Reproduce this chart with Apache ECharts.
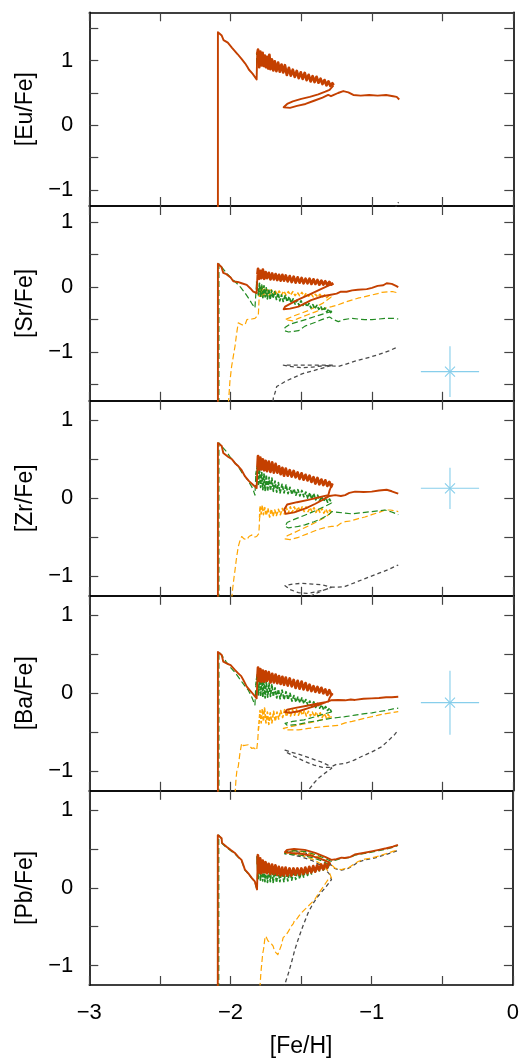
<!DOCTYPE html>
<html><head><meta charset="utf-8">
<script src="https://cdn.jsdelivr.net/npm/echarts@6/dist/echarts.min.js"></script>
<style>html,body{margin:0;padding:0;background:#fff}#c{width:522px;height:1059px}</style>
</head><body><div id="c"></div><script>
// ---------- axis text ----------
const xName = '[Fe/H]';
const panelNames = ['[Eu/Fe]', '[Sr/Fe]', '[Zr/Fe]', '[Ba/Fe]', '[Pb/Fe]'];
const panelRanges = [[-1.25, 1.75], [-1.75, 1.25], [-1.25, 1.25], [-1.25, 1.25], [-1.25, 1.25]];
const panelTicks = [[-1, -0.5, 0, 0.5, 1, 1.5], [-1.5, -1, -0.5, 0, 0.5, 1], [-1, -0.5, 0, 0.5, 1], [-1, -0.5, 0, 0.5, 1], [-1, -0.5, 0, 0.5, 1]];
const yLabelValues = [-1, 0, 1];
const xRange = [-3, 0];
const xLabelValues = [-3, -2, -1, 0];

// ---------- [Eu/Fe] ----------
const euRedPre = [[-2.090,-1.30],[-2.090,1.44],[-2.063,1.39],[-2.050,1.32],[-2.020,1.28],[-1.990,1.20],[-1.950,1.10],[-1.920,1.02],[-1.898,0.96],[-1.880,0.90],[-1.870,0.86],[-1.845,0.80],[-1.816,0.71],[-1.812,1.10]];
const euRedBand = [[-1.806,1.17],[-1.798,0.90],[-1.790,1.14],[-1.782,0.93],[-1.774,1.12],[-1.766,0.92],[-1.758,1.08],[-1.750,0.90],[-1.742,1.06],[-1.734,0.88],[-1.726,1.09],[-1.718,0.87],[-1.708,1.02],[-1.698,0.85],[-1.688,0.99],[-1.676,0.84],[-1.664,0.97],[-1.652,0.83],[-1.640,0.94],[-1.628,0.82],[-1.616,0.93],[-1.602,0.78],[-1.588,0.89],[-1.574,0.77],[-1.560,0.86],[-1.546,0.75],[-1.532,0.84],[-1.518,0.73],[-1.504,0.82],[-1.490,0.72],[-1.476,0.81],[-1.462,0.70],[-1.448,0.78],[-1.434,0.68],[-1.420,0.76],[-1.406,0.67],[-1.392,0.75],[-1.378,0.66],[-1.364,0.72],[-1.350,0.64],[-1.336,0.70],[-1.322,0.62],[-1.308,0.68],[-1.294,0.61],[-1.280,0.65],[-1.272,0.62]];
const euRedPost = [[-1.300,0.55],[-1.330,0.52],[-1.380,0.48],[-1.440,0.44],[-1.500,0.41],[-1.560,0.37],[-1.600,0.33],[-1.625,0.28],[-1.615,0.26],[-1.580,0.27],[-1.530,0.30],[-1.470,0.33],[-1.410,0.38],[-1.350,0.43],[-1.310,0.47],[-1.290,0.45],[-1.270,0.47],[-1.240,0.50],[-1.203,0.53],[-1.167,0.51],[-1.132,0.47],[-1.080,0.46],[-1.020,0.47],[-0.960,0.46],[-0.900,0.47],[-0.850,0.45],[-0.825,0.44],[-0.807,0.40]];
const euGreen = [[-1.816,0.95],[-1.816,1.12],[-1.733,1.03],[-1.733,0.86]];
const euGray = [[-0.840,-1.30],[-0.812,-1.19]];

// ---------- [Sr/Fe] ----------
const srRedPre = [[-2.090,-1.80],[-2.090,0.36],[-2.065,0.31],[-2.052,0.22],[-2.030,0.20],[-2.000,0.15],[-1.981,0.09],[-1.950,0.08],[-1.922,0.06],[-1.886,0.035],[-1.860,-0.02],[-1.840,-0.07],[-1.816,-0.09],[-1.810,0.20]];
const srRedBand = [[-1.806,0.28],[-1.798,0.13],[-1.790,0.25],[-1.782,0.14],[-1.772,0.27],[-1.762,0.13],[-1.752,0.23],[-1.742,0.14],[-1.730,0.22],[-1.718,0.12],[-1.706,0.21],[-1.694,0.12],[-1.682,0.20],[-1.670,0.11],[-1.658,0.19],[-1.646,0.10],[-1.634,0.19],[-1.622,0.10],[-1.610,0.18],[-1.596,0.09],[-1.582,0.17],[-1.568,0.08],[-1.554,0.16],[-1.540,0.07],[-1.526,0.15],[-1.512,0.07],[-1.498,0.14],[-1.484,0.06],[-1.470,0.13],[-1.456,0.06],[-1.442,0.13],[-1.428,0.05],[-1.414,0.12],[-1.400,0.05],[-1.386,0.11],[-1.372,0.04],[-1.358,0.10],[-1.344,0.04],[-1.330,0.09],[-1.316,0.03],[-1.302,0.08],[-1.288,0.04],[-1.274,0.06]];
const srRedPost = [[-1.350,-0.02],[-1.440,-0.11],[-1.530,-0.20],[-1.615,-0.30],[-1.625,-0.34],[-1.580,-0.33],[-1.520,-0.30],[-1.430,-0.20],[-1.350,-0.14],[-1.300,-0.12],[-1.297,-0.14],[-1.250,-0.10],[-1.220,-0.07],[-1.179,-0.07],[-1.140,-0.05],[-1.100,-0.04],[-1.037,-0.03],[-1.000,-0.01],[-0.960,0.02],[-0.920,0.03],[-0.896,0.06],[-0.860,0.05],[-0.830,0.02],[-0.814,0.00]];
const srGreenPre = [[-2.083,-1.80],[-2.083,0.36],[-2.060,0.30],[-2.030,0.22],[-2.000,0.15],[-1.957,0.06],[-1.930,0.00],[-1.898,-0.09],[-1.870,-0.18],[-1.845,-0.27],[-1.828,-0.32],[-1.820,-0.33],[-1.816,0.09]];
const srGreenBand = [[-1.812,0.08],[-1.804,-0.12],[-1.796,0.06],[-1.788,-0.14],[-1.780,0.03],[-1.772,-0.16],[-1.764,0.02],[-1.756,-0.15],[-1.748,-0.01],[-1.740,-0.18],[-1.730,-0.03],[-1.720,-0.19],[-1.710,-0.05],[-1.700,-0.17],[-1.688,-0.07],[-1.676,-0.19],[-1.664,-0.09],[-1.652,-0.21],[-1.640,-0.12],[-1.628,-0.22],[-1.614,-0.13],[-1.600,-0.22],[-1.586,-0.15],[-1.572,-0.24],[-1.558,-0.18],[-1.544,-0.26],[-1.530,-0.20],[-1.516,-0.28],[-1.502,-0.21],[-1.488,-0.28],[-1.474,-0.23],[-1.460,-0.30],[-1.446,-0.25],[-1.432,-0.32],[-1.418,-0.27],[-1.404,-0.33],[-1.390,-0.28],[-1.376,-0.34],[-1.362,-0.30],[-1.348,-0.36],[-1.334,-0.32],[-1.320,-0.38],[-1.306,-0.34],[-1.292,-0.39],[-1.282,-0.37]];
const srGreenPost = [[-1.400,-0.45],[-1.500,-0.52],[-1.580,-0.57],[-1.615,-0.62],[-1.620,-0.67],[-1.590,-0.69],[-1.520,-0.67],[-1.474,-0.60],[-1.400,-0.54],[-1.356,-0.50],[-1.300,-0.46],[-1.270,-0.50],[-1.238,-0.53],[-1.200,-0.50],[-1.144,-0.48],[-1.100,-0.49],[-1.050,-0.50],[-1.000,-0.50],[-0.950,-0.49],[-0.900,-0.48],[-0.850,-0.48],[-0.814,-0.49]];
const srOrangePre = [[-2.016,-1.80],[-2.005,-1.45],[-1.993,-1.22],[-1.980,-1.05],[-1.969,-0.91],[-1.958,-0.72],[-1.946,-0.55],[-1.920,-0.58],[-1.898,-0.58],[-1.885,-0.50],[-1.875,-0.48],[-1.850,-0.49],[-1.828,-0.48],[-1.815,-0.45],[-1.804,-0.43],[-1.798,-0.15]];
const srOrangeBand = [[-1.792,0.02],[-1.784,-0.14],[-1.776,0.00],[-1.768,-0.15],[-1.758,-0.03],[-1.748,-0.13],[-1.738,-0.04],[-1.726,-0.13],[-1.714,-0.04],[-1.700,-0.12],[-1.686,-0.05],[-1.672,-0.11],[-1.656,-0.06],[-1.640,-0.12],[-1.624,-0.06],[-1.608,-0.12],[-1.592,-0.07],[-1.576,-0.12],[-1.560,-0.07],[-1.544,-0.13],[-1.528,-0.08],[-1.512,-0.13],[-1.496,-0.08],[-1.480,-0.14],[-1.464,-0.09],[-1.448,-0.14],[-1.432,-0.10],[-1.416,-0.15],[-1.400,-0.11],[-1.384,-0.15],[-1.368,-0.11],[-1.352,-0.16],[-1.336,-0.12],[-1.320,-0.16],[-1.304,-0.13],[-1.288,-0.15]];
const srOrangePost = [[-1.350,-0.25],[-1.450,-0.36],[-1.550,-0.44],[-1.615,-0.50],[-1.610,-0.53],[-1.560,-0.52],[-1.520,-0.48],[-1.450,-0.42],[-1.400,-0.38],[-1.340,-0.33],[-1.285,-0.30],[-1.238,-0.27],[-1.190,-0.23],[-1.144,-0.20],[-1.100,-0.17],[-1.049,-0.145],[-1.000,-0.12],[-0.960,-0.10],[-0.931,-0.08],[-0.880,-0.07],[-0.850,-0.07],[-0.814,-0.09]];
const srGray = [[-1.700,-1.76],[-1.698,-1.71],[-1.685,-1.62],[-1.674,-1.53],[-1.650,-1.50],[-1.620,-1.46],[-1.592,-1.43],[-1.550,-1.39],[-1.500,-1.34],[-1.474,-1.32],[-1.420,-1.29],[-1.356,-1.25],[-1.310,-1.22],[-1.273,-1.20],[-1.330,-1.20],[-1.400,-1.20],[-1.480,-1.20],[-1.560,-1.20],[-1.627,-1.20],[-1.580,-1.22],[-1.500,-1.24],[-1.420,-1.23],[-1.340,-1.21],[-1.290,-1.21],[-1.238,-1.22],[-1.190,-1.19],[-1.120,-1.14],[-1.050,-1.10],[-0.955,-1.04],[-0.880,-0.98],[-0.814,-0.92]];
const srObs = [[-0.448, -1.30, 0.206, 0.39]];

// ---------- [Zr/Fe] ----------
const zrRedPre = [[-2.090,-1.30],[-2.090,0.71],[-2.063,0.67],[-2.052,0.58],[-2.016,0.53],[-1.990,0.50],[-1.969,0.45],[-1.945,0.41],[-1.922,0.36],[-1.898,0.28],[-1.870,0.22],[-1.840,0.17],[-1.816,0.13],[-1.810,0.40]];
const zrRedBand = [[-1.806,0.54],[-1.798,0.37],[-1.790,0.52],[-1.782,0.37],[-1.772,0.50],[-1.762,0.36],[-1.752,0.48],[-1.742,0.35],[-1.730,0.47],[-1.718,0.34],[-1.706,0.46],[-1.694,0.33],[-1.682,0.44],[-1.670,0.33],[-1.658,0.41],[-1.646,0.31],[-1.634,0.39],[-1.622,0.29],[-1.610,0.38],[-1.596,0.29],[-1.582,0.36],[-1.568,0.28],[-1.554,0.35],[-1.540,0.27],[-1.526,0.33],[-1.512,0.25],[-1.498,0.32],[-1.484,0.24],[-1.470,0.30],[-1.456,0.23],[-1.442,0.29],[-1.428,0.21],[-1.414,0.27],[-1.400,0.19],[-1.386,0.26],[-1.372,0.18],[-1.358,0.24],[-1.344,0.17],[-1.330,0.23],[-1.316,0.16],[-1.302,0.21],[-1.288,0.15],[-1.280,0.19]];
const zrRedPost = [[-1.300,0.10],[-1.309,0.04],[-1.380,0.01],[-1.450,-0.02],[-1.530,-0.05],[-1.600,-0.08],[-1.620,-0.14],[-1.610,-0.20],[-1.550,-0.18],[-1.470,-0.13],[-1.400,-0.07],[-1.340,-0.01],[-1.300,0.03],[-1.260,0.04],[-1.220,0.03],[-1.190,0.04],[-1.160,0.07],[-1.120,0.085],[-1.060,0.08],[-1.002,0.085],[-0.950,0.10],[-0.896,0.11],[-0.860,0.09],[-0.830,0.07],[-0.814,0.06]];
const zrGreenPre = [[-2.083,-1.30],[-2.083,0.71],[-2.060,0.66],[-2.030,0.60],[-2.000,0.52],[-1.946,0.405],[-1.920,0.33],[-1.898,0.28],[-1.875,0.22],[-1.851,0.15],[-1.835,0.08],[-1.828,0.04],[-1.822,0.30]];
const zrGreenBand = [[-1.812,0.40],[-1.804,0.16],[-1.796,0.38],[-1.788,0.14],[-1.780,0.33],[-1.772,0.11],[-1.764,0.31],[-1.756,0.10],[-1.748,0.30],[-1.738,0.09],[-1.728,0.27],[-1.718,0.10],[-1.708,0.26],[-1.698,0.09],[-1.686,0.22],[-1.674,0.08],[-1.662,0.20],[-1.650,0.07],[-1.636,0.18],[-1.622,0.07],[-1.608,0.17],[-1.594,0.06],[-1.580,0.14],[-1.566,0.05],[-1.552,0.12],[-1.538,0.04],[-1.524,0.11],[-1.510,0.03],[-1.496,0.10],[-1.482,0.02],[-1.468,0.08],[-1.454,0.00],[-1.440,0.07],[-1.426,-0.01],[-1.412,0.06],[-1.398,-0.02],[-1.384,0.04],[-1.370,-0.03],[-1.356,0.02],[-1.342,-0.04],[-1.328,0.01],[-1.314,-0.05],[-1.300,-0.01],[-1.286,-0.06]];
const zrGreenPost = [[-1.330,-0.10],[-1.400,-0.16],[-1.480,-0.22],[-1.550,-0.27],[-1.600,-0.31],[-1.615,-0.36],[-1.590,-0.38],[-1.520,-0.36],[-1.474,-0.34],[-1.410,-0.30],[-1.356,-0.26],[-1.300,-0.20],[-1.285,-0.17],[-1.240,-0.18],[-1.190,-0.19],[-1.140,-0.20],[-1.100,-0.19],[-1.050,-0.18],[-1.000,-0.17],[-0.950,-0.16],[-0.908,-0.15],[-0.870,-0.17],[-0.840,-0.19],[-0.814,-0.21]];
const zrOrangePre = [[-1.993,-1.30],[-1.985,-1.15],[-1.975,-1.00],[-1.969,-0.92],[-1.958,-0.76],[-1.946,-0.62],[-1.935,-0.55],[-1.922,-0.49],[-1.905,-0.52],[-1.886,-0.53],[-1.870,-0.49],[-1.851,-0.47],[-1.835,-0.50],[-1.816,-0.49],[-1.800,-0.45],[-1.795,-0.25]];
const zrOrangeBand = [[-1.792,-0.10],[-1.784,-0.20],[-1.776,-0.09],[-1.768,-0.21],[-1.758,-0.12],[-1.748,-0.22],[-1.736,-0.13],[-1.724,-0.24],[-1.712,-0.14],[-1.700,-0.23],[-1.688,-0.15],[-1.676,-0.22],[-1.662,-0.14],[-1.648,-0.21],[-1.634,-0.13],[-1.620,-0.20],[-1.606,-0.12],[-1.592,-0.19],[-1.578,-0.11],[-1.564,-0.18],[-1.550,-0.11],[-1.536,-0.17],[-1.522,-0.11],[-1.508,-0.17],[-1.494,-0.11],[-1.480,-0.17],[-1.466,-0.11],[-1.452,-0.17],[-1.438,-0.12],[-1.424,-0.17],[-1.410,-0.12],[-1.396,-0.18],[-1.382,-0.13],[-1.368,-0.18],[-1.354,-0.13],[-1.340,-0.19],[-1.326,-0.14],[-1.312,-0.19],[-1.298,-0.15],[-1.286,-0.18]];
const zrOrangePost = [[-1.330,-0.24],[-1.400,-0.31],[-1.480,-0.38],[-1.550,-0.44],[-1.600,-0.48],[-1.615,-0.52],[-1.580,-0.53],[-1.520,-0.50],[-1.450,-0.45],[-1.380,-0.40],[-1.320,-0.37],[-1.285,-0.36],[-1.250,-0.36],[-1.220,-0.32],[-1.190,-0.30],[-1.150,-0.29],[-1.096,-0.26],[-1.050,-0.24],[-1.002,-0.21],[-0.950,-0.18],[-0.908,-0.15],[-0.870,-0.15],[-0.840,-0.16],[-0.814,-0.17]];
const zrGray = [[-1.480,-1.30],[-1.420,-1.24],[-1.360,-1.19],[-1.300,-1.15],[-1.285,-1.14],[-1.350,-1.11],[-1.420,-1.10],[-1.500,-1.09],[-1.560,-1.10],[-1.615,-1.12],[-1.580,-1.17],[-1.520,-1.21],[-1.460,-1.22],[-1.400,-1.20],[-1.330,-1.17],[-1.285,-1.14],[-1.240,-1.14],[-1.190,-1.13],[-1.120,-1.08],[-1.049,-1.03],[-0.950,-0.96],[-0.880,-0.91],[-0.814,-0.855]];
const zrObs = [[-0.448, 0.128, 0.206, 0.265]];

// ---------- [Ba/Fe] ----------
const baRedPre = [[-2.090,-1.30],[-2.090,0.53],[-2.063,0.49],[-2.052,0.405],[-2.025,0.38],[-2.000,0.36],[-1.970,0.30],[-1.946,0.256],[-1.925,0.22],[-1.910,0.17],[-1.886,0.085],[-1.850,0.01],[-1.816,-0.065],[-1.810,0.20]];
const baRedBand = [[-1.806,0.33],[-1.798,0.16],[-1.790,0.31],[-1.782,0.15],[-1.772,0.29],[-1.762,0.15],[-1.752,0.28],[-1.742,0.16],[-1.730,0.27],[-1.718,0.14],[-1.706,0.25],[-1.694,0.14],[-1.682,0.24],[-1.670,0.13],[-1.658,0.22],[-1.646,0.12],[-1.634,0.21],[-1.622,0.11],[-1.610,0.20],[-1.596,0.10],[-1.582,0.19],[-1.568,0.09],[-1.554,0.17],[-1.540,0.07],[-1.526,0.16],[-1.512,0.06],[-1.498,0.15],[-1.484,0.05],[-1.470,0.13],[-1.456,0.04],[-1.442,0.11],[-1.428,0.03],[-1.414,0.09],[-1.400,0.02],[-1.386,0.08],[-1.372,0.01],[-1.358,0.07],[-1.344,0.00],[-1.330,0.05],[-1.316,-0.02],[-1.302,0.04],[-1.288,-0.02],[-1.280,0.00]];
const baRedPost = [[-1.300,-0.06],[-1.309,-0.107],[-1.380,-0.13],[-1.460,-0.16],[-1.550,-0.19],[-1.600,-0.21],[-1.615,-0.24],[-1.580,-0.25],[-1.520,-0.23],[-1.450,-0.19],[-1.380,-0.15],[-1.320,-0.11],[-1.290,-0.09],[-1.238,-0.085],[-1.190,-0.09],[-1.150,-0.08],[-1.120,-0.085],[-1.060,-0.07],[-1.002,-0.065],[-0.950,-0.06],[-0.900,-0.05],[-0.860,-0.05],[-0.814,-0.045]];
const baGreenPre = [[-2.083,-1.30],[-2.083,0.53],[-2.060,0.48],[-2.030,0.40],[-2.000,0.33],[-1.970,0.27],[-1.946,0.21],[-1.910,0.12],[-1.875,0.04],[-1.850,-0.05],[-1.828,-0.15],[-1.822,0.10]];
const baGreenBand = [[-1.812,0.24],[-1.804,-0.02],[-1.796,0.22],[-1.788,-0.04],[-1.780,0.20],[-1.772,-0.05],[-1.764,0.18],[-1.756,-0.06],[-1.748,0.16],[-1.738,-0.05],[-1.728,0.13],[-1.718,-0.04],[-1.708,0.11],[-1.698,-0.04],[-1.686,0.07],[-1.674,-0.06],[-1.662,0.05],[-1.650,-0.07],[-1.636,0.04],[-1.622,-0.08],[-1.608,0.02],[-1.594,-0.08],[-1.580,0.00],[-1.566,-0.10],[-1.552,-0.03],[-1.538,-0.11],[-1.524,-0.05],[-1.510,-0.12],[-1.496,-0.06],[-1.482,-0.13],[-1.468,-0.08],[-1.454,-0.15],[-1.440,-0.10],[-1.426,-0.17],[-1.412,-0.11],[-1.398,-0.18],[-1.384,-0.13],[-1.370,-0.19],[-1.356,-0.15],[-1.342,-0.21],[-1.328,-0.17],[-1.314,-0.22],[-1.300,-0.19],[-1.286,-0.24]];
const baGreenPost = [[-1.330,-0.26],[-1.400,-0.30],[-1.480,-0.34],[-1.560,-0.36],[-1.615,-0.385],[-1.600,-0.41],[-1.530,-0.40],[-1.450,-0.37],[-1.380,-0.35],[-1.320,-0.33],[-1.285,-0.32],[-1.240,-0.31],[-1.190,-0.30],[-1.120,-0.28],[-1.050,-0.26],[-1.000,-0.25],[-0.955,-0.235],[-0.900,-0.22],[-0.850,-0.20],[-0.814,-0.19]];
const baOrangePre = [[-1.969,-1.30],[-1.962,-1.10],[-1.955,-0.98],[-1.946,-0.94],[-1.935,-0.78],[-1.922,-0.64],[-1.910,-0.67],[-1.898,-0.68],[-1.875,-0.66],[-1.851,-0.705],[-1.835,-0.70],[-1.816,-0.73],[-1.808,-0.60],[-1.804,-0.47]];
const baOrangeBand = [[-1.800,-0.40],[-1.792,-0.22],[-1.784,-0.38],[-1.776,-0.20],[-1.768,-0.36],[-1.760,-0.19],[-1.750,-0.38],[-1.740,-0.24],[-1.730,-0.40],[-1.720,-0.25],[-1.708,-0.38],[-1.696,-0.23],[-1.684,-0.36],[-1.672,-0.24],[-1.660,-0.33],[-1.646,-0.22],[-1.632,-0.31],[-1.618,-0.21],[-1.604,-0.30],[-1.590,-0.21],[-1.576,-0.29],[-1.562,-0.21],[-1.548,-0.28],[-1.534,-0.21],[-1.520,-0.28],[-1.506,-0.22],[-1.492,-0.28],[-1.478,-0.22],[-1.464,-0.29],[-1.450,-0.23],[-1.436,-0.29],[-1.422,-0.24],[-1.408,-0.30],[-1.394,-0.24],[-1.380,-0.30],[-1.366,-0.25],[-1.352,-0.31],[-1.338,-0.26],[-1.324,-0.31],[-1.310,-0.27],[-1.296,-0.31],[-1.286,-0.30]];
const baOrangePost = [[-1.340,-0.33],[-1.420,-0.37],[-1.500,-0.40],[-1.580,-0.43],[-1.627,-0.45],[-1.600,-0.47],[-1.520,-0.47],[-1.450,-0.45],[-1.356,-0.43],[-1.300,-0.42],[-1.238,-0.41],[-1.190,-0.38],[-1.140,-0.36],[-1.096,-0.34],[-1.050,-0.32],[-1.000,-0.30],[-0.955,-0.28],[-0.900,-0.26],[-0.850,-0.245],[-0.814,-0.235]];
const baGray = [[-1.470,-1.30],[-1.440,-1.22],[-1.410,-1.15],[-1.380,-1.09],[-1.330,-1.02],[-1.285,-0.96],[-1.300,-0.93],[-1.360,-0.88],[-1.440,-0.83],[-1.520,-0.78],[-1.580,-0.75],[-1.615,-0.73],[-1.600,-0.76],[-1.550,-0.81],[-1.480,-0.87],[-1.410,-0.92],[-1.350,-0.95],[-1.300,-0.95],[-1.250,-0.91],[-1.190,-0.90],[-1.130,-0.86],[-1.073,-0.81],[-1.000,-0.75],[-0.931,-0.685],[-0.880,-0.60],[-0.840,-0.53],[-0.814,-0.47]];
const baObs = [[-0.448, -0.12, 0.206, 0.41]];

// ---------- [Pb/Fe] ----------
const pbRedPre = [[-2.090,-1.30],[-2.090,0.68],[-2.063,0.64],[-2.060,0.58],[-2.028,0.53],[-2.000,0.49],[-1.969,0.45],[-1.945,0.40],[-1.922,0.36],[-1.910,0.30],[-1.898,0.235],[-1.875,0.19],[-1.850,0.13],[-1.828,0.085],[-1.812,-0.02],[-1.808,0.30]];
const pbRedBand = [[-1.806,0.42],[-1.798,0.20],[-1.790,0.38],[-1.782,0.19],[-1.772,0.35],[-1.762,0.20],[-1.752,0.33],[-1.742,0.19],[-1.730,0.31],[-1.718,0.18],[-1.706,0.30],[-1.694,0.18],[-1.682,0.29],[-1.670,0.17],[-1.658,0.27],[-1.646,0.16],[-1.634,0.26],[-1.622,0.16],[-1.610,0.26],[-1.596,0.16],[-1.582,0.25],[-1.568,0.16],[-1.554,0.25],[-1.540,0.17],[-1.526,0.25],[-1.512,0.17],[-1.498,0.25],[-1.484,0.18],[-1.470,0.26],[-1.456,0.19],[-1.442,0.27],[-1.428,0.20],[-1.414,0.28],[-1.400,0.21],[-1.386,0.29],[-1.372,0.23],[-1.358,0.30],[-1.344,0.24],[-1.330,0.31],[-1.316,0.26],[-1.302,0.32],[-1.296,0.30]];
const pbRedPost = [[-1.300,0.33],[-1.356,0.37],[-1.420,0.41],[-1.500,0.44],[-1.570,0.45],[-1.615,0.46],[-1.600,0.49],[-1.550,0.50],[-1.474,0.49],[-1.400,0.45],[-1.330,0.40],[-1.285,0.36],[-1.250,0.37],[-1.214,0.39],[-1.190,0.385],[-1.150,0.40],[-1.120,0.43],[-1.060,0.45],[-1.002,0.47],[-0.950,0.49],[-0.896,0.51],[-0.850,0.53],[-0.814,0.555]];
const pbGreenPre = [[-2.083,-1.30],[-2.083,0.68],[-2.063,0.63],[-2.060,0.57],[-2.028,0.52],[-1.970,0.44],[-1.922,0.35],[-1.898,0.23],[-1.875,0.18],[-1.828,0.08],[-1.812,-0.03],[-1.808,0.25]];
const pbGreenBand = [[-1.812,0.40],[-1.804,0.12],[-1.796,0.38],[-1.788,0.10],[-1.780,0.33],[-1.772,0.09],[-1.764,0.30],[-1.756,0.08],[-1.748,0.28],[-1.738,0.07],[-1.728,0.26],[-1.718,0.08],[-1.708,0.27],[-1.698,0.07],[-1.686,0.24],[-1.674,0.07],[-1.662,0.23],[-1.650,0.08],[-1.636,0.23],[-1.622,0.08],[-1.608,0.22],[-1.594,0.09],[-1.580,0.22],[-1.566,0.10],[-1.552,0.22],[-1.538,0.11],[-1.524,0.23],[-1.510,0.12],[-1.496,0.23],[-1.482,0.14],[-1.468,0.24],[-1.454,0.16],[-1.440,0.25],[-1.426,0.18],[-1.412,0.26],[-1.398,0.20],[-1.384,0.27],[-1.370,0.22],[-1.356,0.28],[-1.342,0.23],[-1.328,0.29],[-1.314,0.25],[-1.300,0.30]];
const pbGreenPost = [[-1.300,0.31],[-1.356,0.35],[-1.420,0.39],[-1.500,0.42],[-1.570,0.43],[-1.615,0.44],[-1.600,0.47],[-1.550,0.48],[-1.474,0.47],[-1.400,0.43],[-1.330,0.38],[-1.285,0.34],[-1.250,0.36],[-1.214,0.38],[-1.150,0.39],[-1.120,0.42],[-1.060,0.44],[-1.000,0.46],[-0.950,0.48],[-0.896,0.50],[-0.850,0.52],[-0.814,0.545]];
const pbOrange = [[-1.792,-1.30],[-1.785,-1.10],[-1.780,-1.00],[-1.772,-0.85],[-1.765,-0.78],[-1.757,-0.66],[-1.750,-0.62],[-1.745,-0.60],[-1.735,-0.68],[-1.722,-0.66],[-1.710,-0.72],[-1.698,-0.75],[-1.690,-0.80],[-1.680,-0.83],[-1.665,-0.86],[-1.651,-0.85],[-1.640,-0.74],[-1.627,-0.64],[-1.615,-0.66],[-1.604,-0.60],[-1.590,-0.56],[-1.580,-0.58],[-1.568,-0.49],[-1.555,-0.46],[-1.545,-0.41],[-1.530,-0.40],[-1.515,-0.36],[-1.497,-0.32],[-1.475,-0.28],[-1.450,-0.235],[-1.425,-0.19],[-1.403,-0.15],[-1.380,-0.08],[-1.356,-0.02],[-1.330,0.05],[-1.309,0.106],[-1.285,0.128],[-1.300,0.20],[-1.350,0.30],[-1.420,0.37],[-1.500,0.42],[-1.570,0.44],[-1.615,0.45],[-1.600,0.47],[-1.550,0.48],[-1.474,0.46],[-1.400,0.42],[-1.330,0.36],[-1.285,0.30],[-1.262,0.256],[-1.235,0.24],[-1.214,0.235],[-1.190,0.25],[-1.167,0.256],[-1.130,0.30],[-1.096,0.34],[-1.050,0.37],[-1.002,0.385],[-0.950,0.41],[-0.900,0.44],[-0.850,0.47],[-0.814,0.49]];
const pbGray = [[-1.625,-1.30],[-1.615,-1.24],[-1.590,-1.10],[-1.568,-0.96],[-1.545,-0.80],[-1.520,-0.66],[-1.485,-0.48],[-1.450,-0.32],[-1.415,-0.20],[-1.380,-0.107],[-1.330,0.00],[-1.285,0.106],[-1.300,0.18],[-1.350,0.28],[-1.420,0.35],[-1.500,0.40],[-1.570,0.43],[-1.615,0.44],[-1.600,0.46],[-1.550,0.47],[-1.474,0.45],[-1.400,0.41],[-1.330,0.35],[-1.285,0.29],[-1.262,0.25],[-1.235,0.235],[-1.214,0.23],[-1.190,0.24],[-1.167,0.25],[-1.130,0.29],[-1.096,0.33],[-1.050,0.36],[-1.002,0.375],[-0.950,0.40],[-0.900,0.43],[-0.850,0.46],[-0.814,0.48]];

// ---------- assemble (each curve = list of consecutive pieces; middle piece = noisy band) ----------
const models = [
  { gray: [euGray], orange: [], green: [euGreen], red: [euRedPre, euRedBand, euRedPost], obs: [] },
  { gray: [srGray], orange: [srOrangePre, srOrangeBand, srOrangePost], green: [srGreenPre, srGreenBand, srGreenPost], red: [srRedPre, srRedBand, srRedPost], obs: srObs },
  { gray: [zrGray], orange: [zrOrangePre, zrOrangeBand, zrOrangePost], green: [zrGreenPre, zrGreenBand, zrGreenPost], red: [zrRedPre, zrRedBand, zrRedPost], obs: zrObs },
  { gray: [baGray], orange: [baOrangePre, baOrangeBand, baOrangePost], green: [baGreenPre, baGreenBand, baGreenPost], red: [baRedPre, baRedBand, baRedPost], obs: baObs },
  { gray: [pbGray], orange: [pbOrange], green: [pbGreenPre, pbGreenBand, pbGreenPost], red: [pbRedPre, pbRedBand, pbRedPost], obs: [] }
];

const styles = {
  gray:   { color: '#4a4a4a', width: 1.3, bandWidth: 1.3, type: [4, 3], bandType: [4, 3] },
  orange: { color: '#ffa500', width: 1.2, bandWidth: 1.6, type: [6, 3], bandType: [4, 2] },
  green:  { color: '#228b22', width: 1.2, bandWidth: 1.7, type: [6, 3], bandType: [4, 1.5] },
  red:    { color: '#c44000', width: 1.9, bandWidth: 2.8, type: 'solid', bandType: 'solid' }
};
const obsColor = '#87ceeb';
const FONT = 'Liberation Sans, Arial, Helvetica, sans-serif';
const gridTops = [12.3, 206, 400.8, 595.8, 790.8];
const gridHeights = [193.7, 194.8, 195, 195, 195];
const GL = 89.3, GR = 8.7;

const fmt = v => (v < 0 ? '\u2212' : '') + Math.abs(v);

const grids = [], xAxes = [], yAxes = [], series = [];
for (let i = 0; i < 5; i++) {
  grids.push({ left: GL, right: GR, top: gridTops[i], height: gridHeights[i], containLabel: false });
  const tick = { show: true, inside: true, length: 9, lineStyle: { color: '#444', width: 1.2 } };
  const line = { show: true, onZero: false, lineStyle: { color: '#000', width: 1.6 } };
  const isLast = i === 4;
  xAxes.push({
    type: 'value', gridIndex: i, position: 'bottom', min: xRange[0], max: xRange[1], interval: 0.5,
    axisLine: line, axisTick: tick, splitLine: { show: false },
    axisLabel: { show: isLast, margin: 17, fontSize: 22, fontFamily: FONT, color: '#000',
      formatter: v => xLabelValues.includes(v) ? fmt(v) : '' },
    name: isLast ? xName : '', nameLocation: 'middle', nameGap: 50,
    nameTextStyle: { fontSize: 23, fontFamily: FONT, color: '#000' }
  });
  xAxes.push({
    type: 'value', gridIndex: i, position: 'top', min: xRange[0], max: xRange[1], interval: 0.5,
    axisLine: line, axisTick: tick, splitLine: { show: false }, axisLabel: { show: false }
  });
  const [ymin, ymax] = panelRanges[i];
  yAxes.push({
    type: 'value', gridIndex: i, position: 'left', min: ymin, max: ymax, interval: 0.25,
    axisLine: line,
    axisTick: Object.assign({}, tick, { customValues: panelTicks[i] }),
    splitLine: { show: false },
    axisLabel: { show: true, margin: 16, fontSize: 22, fontFamily: FONT, color: '#000',
      customValues: yLabelValues, formatter: v => yLabelValues.includes(v) ? fmt(v) : '' },
    name: panelNames[i], nameLocation: 'middle', nameGap: 52, nameRotate: 90,
    nameTextStyle: { fontSize: 23, fontFamily: FONT, color: '#000' }
  });
  yAxes.push({
    type: 'value', gridIndex: i, position: 'right', min: ymin, max: ymax, interval: 0.25,
    axisLine: line,
    axisTick: Object.assign({}, tick, { customValues: panelTicks[i] }),
    splitLine: { show: false }, axisLabel: { show: false }
  });
  for (const key of ['gray', 'orange', 'green', 'red']) {
    const pieces = models[i][key];
    const st = styles[key];
    pieces.forEach((piece, j) => {
      const isBand = pieces.length === 3 && j === 1;
      const data = j > 0 ? [pieces[j - 1][pieces[j - 1].length - 1], ...piece] : piece;
      series.push({
        type: 'line', xAxisIndex: 2 * i, yAxisIndex: 2 * i, data: data, showSymbol: false, symbol: 'none',
        clip: true, silent: true, animation: false,
        lineStyle: { color: st.color, width: isBand ? st.bandWidth : st.width, type: isBand ? st.bandType : st.type, join: 'round', cap: 'butt' }
      });
    });
  }
  if (models[i].obs.length) {
    series.push({
      type: 'custom', xAxisIndex: 2 * i, yAxisIndex: 2 * i, data: models[i].obs, silent: true, animation: false,
      renderItem: (params, api) => {
        const x = api.value(0), y = api.value(1), ex = api.value(2), ey = api.value(3);
        const c = api.coord([x, y]);
        const l = api.coord([x - ex, y]), r = api.coord([x + ex, y]);
        const t = api.coord([x, y + ey]), b = api.coord([x, y - ey]);
        const s = 5;
        const st = { stroke: obsColor, lineWidth: 1.1 };
        return { type: 'group', children: [
          { type: 'line', shape: { x1: l[0], y1: l[1], x2: r[0], y2: r[1] }, style: st },
          { type: 'line', shape: { x1: t[0], y1: t[1], x2: b[0], y2: b[1] }, style: st },
          { type: 'line', shape: { x1: c[0] - s, y1: c[1] - s, x2: c[0] + s, y2: c[1] + s }, style: st },
          { type: 'line', shape: { x1: c[0] - s, y1: c[1] + s, x2: c[0] + s, y2: c[1] - s }, style: st }
        ] };
      }
    });
  }
}

const chart = echarts.init(document.getElementById('c'), null, { renderer: 'canvas' });
chart.setOption({
  backgroundColor: '#fff', animation: false,
  grid: grids, xAxis: xAxes, yAxis: yAxes, series: series
});
</script></body></html>
